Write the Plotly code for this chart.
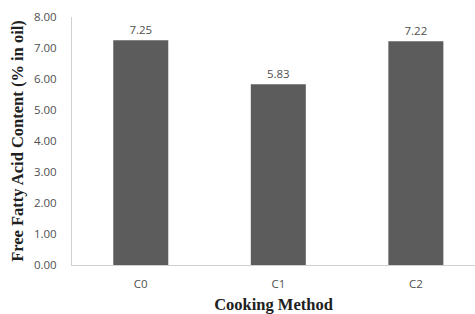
import plotly.graph_objects as go

categories = ["C0", "C1", "C2"]
values = [7.25, 5.83, 7.22]
value_labels = ["7.25", "5.83", "7.22"]
y_ticks = [0, 1, 2, 3, 4, 5, 6, 7, 8]
y_tick_labels = ["0.00", "1.00", "2.00", "3.00", "4.00", "5.00", "6.00", "7.00", "8.00"]

tick_font = dict(family="Open Sans, Liberation Sans", size=11.5, color="#505050")

fig = go.Figure(go.Bar(
    x=categories, y=values, text=value_labels, textposition="outside",
    textfont=tick_font,
    marker=dict(color="#5c5c5c", line=dict(width=0)),
    width=0.4, cliponaxis=False,
))

fig.update_layout(
    width=475, height=314,
    margin=dict(l=72, r=0, t=17, b=49),
    paper_bgcolor="white", plot_bgcolor="white",
    showlegend=False,
    xaxis=dict(
        range=[-0.5, 2.43], showgrid=False, showline=True, linecolor="#d0d0d0", linewidth=1,
        ticks="", tickfont=tick_font, ticklabelstandoff=8,
        title=dict(text="<b>Cooking Method</b>", font=dict(family="Liberation Serif", size=16.5, color="#202020"), standoff=11),
    ),
    yaxis=dict(
        range=[0, 8], tickvals=y_ticks, ticktext=y_tick_labels, showgrid=False,
        showline=True, linecolor="#d0d0d0", linewidth=1, ticks="", zeroline=False,
        tickfont=tick_font, ticklabelstandoff=12,
        title=dict(text="<b>Free Fatty Acid Content (% in oil)</b>", font=dict(family="Liberation Serif", size=16.5, color="#202020"), standoff=6),
    ),
)

fig.write_html("out.html", config={"displayModeBar": False},
               post_script="document.body.style.margin='0';document.body.style.overflow='hidden';")
